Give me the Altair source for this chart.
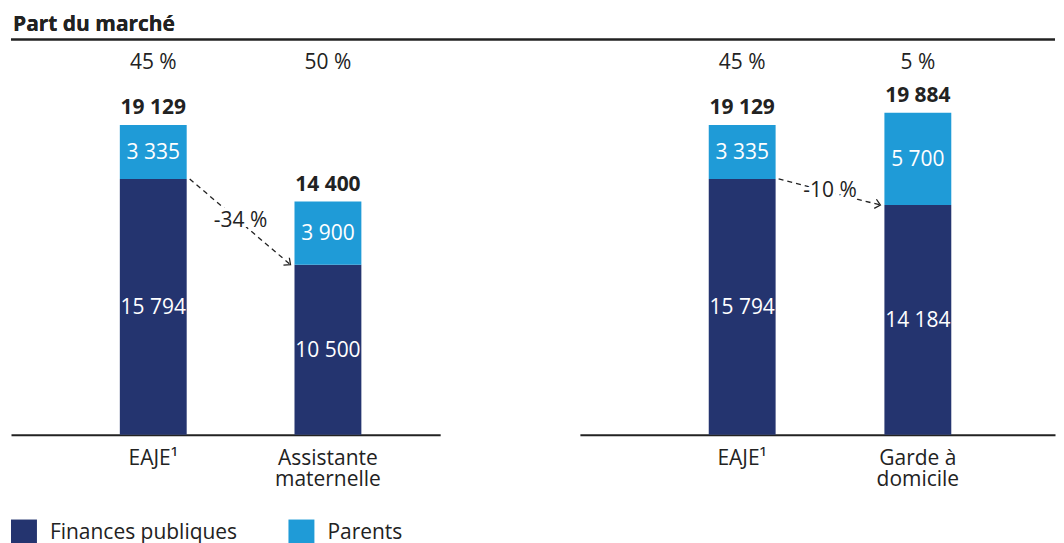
import math
import altair as alt
import pandas as pd

FONT = "Open Sans"
NAVY = "#24346f"
BLUE = "#1f9bd7"
INK = "#222222"
FS = 21

# ---- data ----
series = ["Finances publiques", "Parents"]

left_cats = ["EAJE¹", "Assistante\nmaternelle"]
left_public = [15794, 10500]
left_parents = [3335, 3900]
left_share = ["45 %", "50 %"]
left_change = "-34 %"

right_cats = ["EAJE¹", "Garde à\ndomicile"]
right_public = [15794, 14184]
right_parents = [3335, 5700]
right_share = ["45 %", "5 %"]
right_change = "-10 %"

title_text = "Part du marché"

# ---- layout ----
H = 395
YMAX = 24350
SPACING = 140
BW = 67
LEFT_W = 430
RIGHT_W = 476


def fmt(n):
    return f"{n:,}".replace(",", " ")


yscale = alt.Scale(domain=[0, YMAX], nice=False, zero=True)
color = alt.Color(
    "series:N",
    scale=alt.Scale(domain=series, range=[NAVY, BLUE]),
    legend=alt.Legend(
        title=None, orient="none", legendX=0, legendY=480, direction="horizontal",
        symbolType="square", symbolSize=676, symbolStrokeWidth=0,
        labelFontSize=FS, labelFont=FONT, labelColor=INK, labelOffset=13,
        labelLimit=400, columnPadding=51, padding=0,
    ),
)
xaxis = alt.Axis(
    title=None, ticks=False, domain=True, domainColor=INK, domainWidth=2,
    labelFontSize=FS, labelFont=FONT, labelColor=INK, labelPadding=13,
    labelAngle=0, labelLineHeight=21, grid=False,
    labelExpr="split(datum.label, '\\n')",
)


def panel(cats, public, parents, share, change, width, step, align, first):
    pin = 1 - BW / step
    pout = (width / step - (2 - pin)) / 2
    xscale = alt.Scale(domain=cats, paddingInner=pin, paddingOuter=pout, align=align)

    rows = []
    for c, p, q in zip(cats, public, parents):
        rows.append(dict(cat=c, series=series[0], value=p, mid=p / 2, label=fmt(p), order=0))
        rows.append(dict(cat=c, series=series[1], value=q, mid=p + q / 2, label=fmt(q), order=1))
    seg = pd.DataFrame(rows)
    tot = pd.DataFrame(dict(cat=cats, total=[p + q for p, q in zip(public, parents)], share=share))
    tot["label"] = tot["total"].map(fmt)
    arr = pd.DataFrame([dict(c0=cats[0], c1=cats[1], v0=public[0], v1=public[1],
                             vm=(public[0] + public[1]) / 2, label=change)])

    X = alt.X("cat:N", scale=xscale, sort=cats, axis=xaxis)
    gap = step - BW
    dy_px = (public[0] - public[1]) * H / YMAX
    ang = math.degrees(math.atan2(dy_px, gap))

    bars = alt.Chart(seg).mark_bar().encode(
        x=X,
        y=alt.Y("value:Q", stack="zero", scale=yscale, axis=None),
        color=color,
        order=alt.Order("order:Q"),
    )
    seg_txt = alt.Chart(seg).mark_text(
        color="white", font=FONT, fontSize=FS, baseline="middle", dy=1
    ).encode(x=X, y=alt.Y("mid:Q", scale=yscale, axis=None), text="label:N")
    tot_txt = alt.Chart(tot).mark_text(
        color=INK, font=FONT, fontSize=FS, fontWeight="bold", baseline="alphabetic", dy=-11
    ).encode(x=X, y=alt.Y("total:Q", scale=yscale, axis=None), text="label:N")
    share_txt = alt.Chart(tot).mark_text(
        color=INK, font=FONT, fontSize=FS, baseline="alphabetic"
    ).encode(x=X, y=alt.value(29), text="share:N")

    X0 = alt.X("c0:N", scale=xscale, sort=cats, axis=xaxis, bandPosition=1)
    line = alt.Chart(arr).mark_rule(
        color=INK, strokeWidth=1.3, strokeDash=[5, 4], xOffset=3, x2Offset=-4
    ).encode(
        x=X0,
        x2=alt.X2("c1:N", bandPosition=0),
        y=alt.Y("v0:Q", scale=yscale, axis=None),
        y2="v1:Q",
    )
    head = alt.Chart(arr).mark_point(
        shape="M-1,-0.9L0,0L-1,0.9", filled=False, color=INK, strokeWidth=1.3,
        size=110, angle=ang, opacity=1, xOffset=-4,
    ).encode(
        x=alt.X("c1:N", scale=xscale, sort=cats, axis=xaxis, bandPosition=0),
        y=alt.Y("v1:Q", scale=yscale, axis=None),
    )
    halo = alt.Chart(arr).mark_text(
        color="white", stroke="white", strokeWidth=7, font=FONT, fontSize=FS,
        baseline="middle", xOffset=gap / 2, dy=-1,
    ).encode(x=X0, y=alt.Y("vm:Q", scale=yscale, axis=None), text="label:N")
    lab = alt.Chart(arr).mark_text(
        color=INK, font=FONT, fontSize=FS, baseline="middle", xOffset=gap / 2, dy=-1,
    ).encode(x=X0, y=alt.Y("vm:Q", scale=yscale, axis=None), text="label:N")

    layers = [bars, seg_txt, tot_txt, share_txt, line, halo, lab, head]
    if first:
        total_w = LEFT_W + SPACING + RIGHT_W
        top_rule = alt.Chart(tot).mark_rule(color=INK, strokeWidth=2).encode(
            x=alt.value(0), x2=alt.value(total_w), y=alt.value(-1)
        )
        title = alt.Chart(tot).mark_text(
            color=INK, font=FONT, fontSize=FS, fontWeight="bold",
            align="left", baseline="alphabetic",
        ).encode(x=alt.value(2), y=alt.value(-9), text=alt.value(title_text))
        layers = [top_rule, title] + layers
    return alt.layer(*layers).properties(width=width, height=H)


left = panel(left_cats, left_public, left_parents, left_share, left_change,
             width=LEFT_W, step=175, align=0.58, first=True)
right = panel(right_cats, right_public, right_parents, right_share, right_change,
              width=RIGHT_W, step=176, align=0.554, first=False)

chart = alt.hconcat(left, right, spacing=SPACING, bounds="flush").properties(
    padding={"left": 2, "top": 6, "right": 0, "bottom": 0}
).configure(
    font=FONT, view=alt.ViewConfig(stroke="transparent", strokeWidth=0)
)

chart.save("out.html", embed_options={"renderer": "svg", "actions": False})
